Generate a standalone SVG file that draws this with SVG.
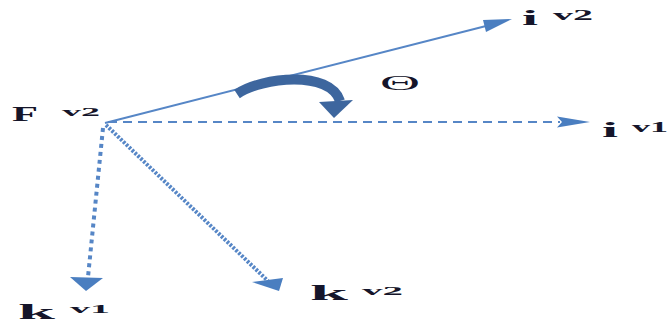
<svg xmlns="http://www.w3.org/2000/svg" width="667" height="325" viewBox="0 0 667 325">
<style>
.t{font-family:"Liberation Serif","Times New Roman",serif;font-weight:bold;fill:#15152a}
.th{font-family:"Liberation Serif","Times New Roman",serif;font-weight:normal;fill:#15152a}
.ln{fill:none;stroke:#5686c6}
.ah{fill:#4a7ec0}
</style>
<rect width="667" height="325" fill="#ffffff"/>
<g id="connectors">
<line id="iv2-line" class="ln" x1="105" y1="123" x2="490" y2="25" stroke-width="2"/>
<polygon class="ah" points="512,19 486,32 483,20"/>
<line id="iv1-line" class="ln" x1="108" y1="122" x2="560" y2="122" stroke-width="2" stroke-dasharray="9 6"/>
<polygon class="ah" points="590,122 557,116.5 562,122 557,127.5"/>
<line id="kv1-line" class="ln" x1="103" y1="128" x2="88" y2="277" stroke-width="4" stroke-dasharray="4 4"/>
<polygon class="ah" points="70,277 103,278 86,291"/>
<line id="kv2-line" class="ln" x1="106" y1="125" x2="268" y2="281" stroke-width="4" stroke-dasharray="2.5 1.5"/>
<polygon class="ah" points="252,282 283,278 279,291"/>
<path id="theta-arc" d="M 237 94 C 262 77, 330 70, 340 101" fill="none" stroke="#3d669e" stroke-width="10"/>
<polygon fill="#3d669e" points="319,102 353,100 334,118"/>
</g>
<g id="node-F">
<text class="t" x="12" y="121" font-size="20" textLength="26" lengthAdjust="spacingAndGlyphs">F</text>
<text class="t" x="62" y="116" font-size="13" textLength="38" lengthAdjust="spacingAndGlyphs">v2</text>
</g>
<g id="node-iv2">
<text class="t" x="522" y="25" font-size="21" textLength="16" lengthAdjust="spacingAndGlyphs">i</text>
<text class="t" x="553" y="20" font-size="14" textLength="40" lengthAdjust="spacingAndGlyphs">v2</text>
</g>
<g id="node-iv1">
<text class="t" x="602" y="137" font-size="21" textLength="16" lengthAdjust="spacingAndGlyphs">i</text>
<text class="t" x="632" y="132" font-size="14" textLength="36" lengthAdjust="spacingAndGlyphs">v1</text>
</g>
<g id="node-kv1">
<text class="t" x="18" y="319" font-size="22" textLength="37" lengthAdjust="spacingAndGlyphs">k</text>
<text class="t" x="70" y="313" font-size="13" textLength="40" lengthAdjust="spacingAndGlyphs">v1</text>
</g>
<g id="node-kv2">
<text class="t" x="310" y="300" font-size="22" textLength="38" lengthAdjust="spacingAndGlyphs">k</text>
<text class="t" x="362" y="295" font-size="13" textLength="41" lengthAdjust="spacingAndGlyphs">v2</text>
</g>
<g id="label-theta">
<text class="th" x="380" y="90" font-size="22" textLength="40" lengthAdjust="spacingAndGlyphs">Θ</text>
</g>
</svg>
